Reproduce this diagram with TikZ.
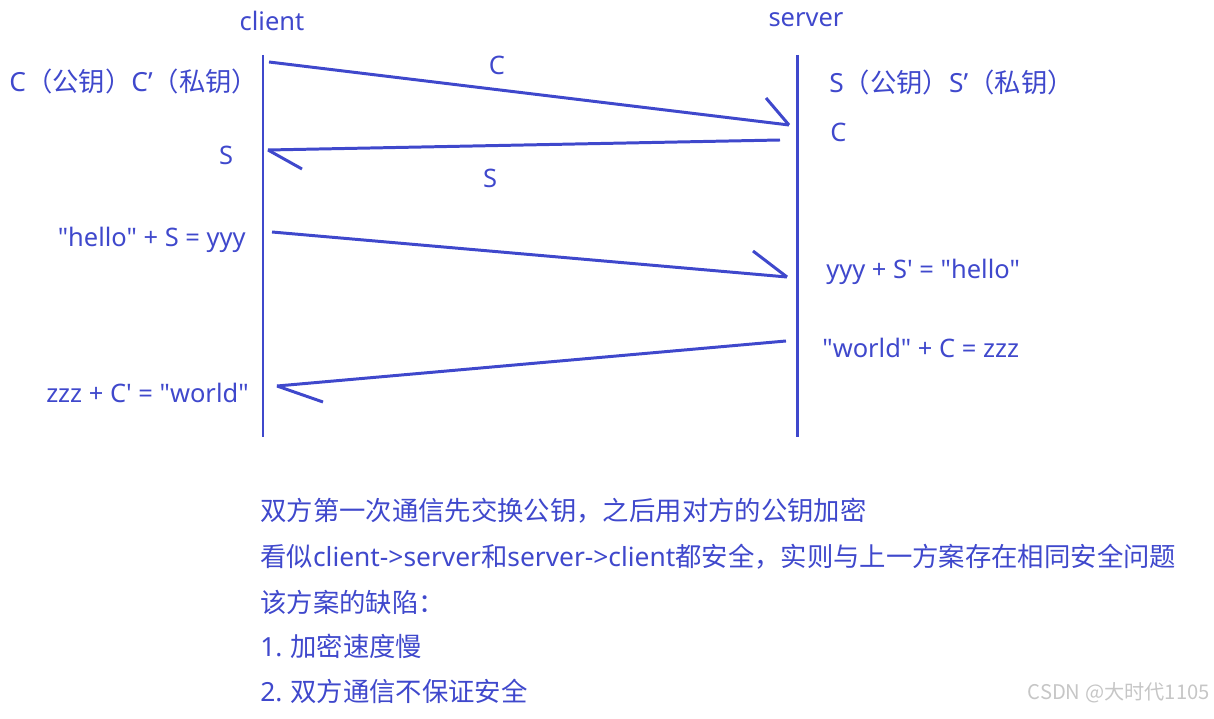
\documentclass[tikz,border=0pt]{standalone}
\usepackage{fontspec}
\usepackage{xcolor}
\usetikzlibrary{positioning}
\newfontfamily\cjkfont[Ligatures=TeXOff]{Noto Sans CJK SC}
\newfontfamily\latinfont[Ligatures=TeXOff]{Noto Sans}
\newcommand\eng[1]{{\latinfont #1}}
\definecolor{penblue}{HTML}{3F48CC}

\begin{document}
\begin{tikzpicture}[
  x=0.02cm, y=-0.02cm,
  font=\cjkfont\fontsize{15}{18}\selectfont,
  label/.style={inner sep=0pt, text=penblue, font=\latinfont\fontsize{14.5}{17}\selectfont},
  note/.style={inner sep=0pt, anchor=west, text=penblue},
  lifeline/.style={penblue, line width=1.7pt},
  msg/.style={penblue, line width=1.7pt}
]
\useasboundingbox (0,0) rectangle (1214,719);
% the two parties
\node[label] (client) at (272,21) {client};
\node[label] (server) at (806,20) {server};
\coordinate (ctop) at (263,55);
\coordinate (cbot) at (263,437);
\coordinate (stop) at (797,55);
\coordinate (sbot) at (797,437);
\draw[lifeline] (ctop) -- (cbot);
\draw[lifeline] (stop) -- (sbot);
% keys
\node[note, anchor=west] (ckeys) at (9,81) {\eng{C}（公钥）\eng{C’}（私钥）};
\node[note, anchor=west] (skeys) at (829,82) {\eng{S}（公钥）\eng{S’}（私钥）};
\node[label, anchor=west] (sgotc) at (830,132) {C};
\node[label] (cgots) at (226,155) {S};
% key exchange
\coordinate (m1s) at (269,62);
\coordinate (m1e) at (789,125);
\coordinate (m2s) at (780,140);
\coordinate (m2e) at (268,150);
\draw[msg] (m1s) -- (m1e);
\draw[msg] (m1e) -- ++(-23,-27);
\node[label] (m1lab) at (497,65) {C};
\draw[msg] (m2s) -- (m2e);
\draw[msg] (m2e) -- ++(34,19);
\node[label] (m2lab) at (490,178) {S};
% encrypted messages
\node[label, anchor=east] (chello) at (246,240) {"hello" + S = yyy};
\node[label, anchor=west] (shello) at (826,272) {yyy + S' = "hello"};
\node[label, anchor=west] (sworld) at (822,348) {"world" + C = zzz};
\node[label, anchor=east] (cworld) at (249,393) {zzz + C' = "world"};
\coordinate (m3s) at (272,232);
\coordinate (m3e) at (787,277);
\coordinate (m4s) at (786,341);
\coordinate (m4e) at (277,386);
\draw[msg] (m3s) -- (m3e);
\draw[msg] (m3e) -- ++(-34,-26);
\draw[msg] (m4s) -- (m4e);
\draw[msg] (m4e) -- ++(46,16);
% notes
\node[note] (note1) at (260,511) {双方第一次通信先交换公钥，之后用对方的公钥加密};
\node[note, below=0.92cm of note1.west, anchor=west] (note2) {看似\eng{client->server}和\eng{server->client}都安全，实则与上一方案存在相同安全问题};
\node[note, below=0.9cm of note2.west, anchor=west] (note3) {该方案的缺陷：};
\node[note, below=0.88cm of note3.west, anchor=west] (note4) {\eng{1.} 加密速度慢};
\node[note, below=0.9cm of note4.west, anchor=west] (note5) {\eng{2.} 双方通信不保证安全};
\node[inner sep=0pt, anchor=east, text=gray!45, font=\cjkfont\fontsize{11.5}{14}\selectfont] (mark) at (1210,693) {CSDN @大时代1105};
\end{tikzpicture}
\end{document}
